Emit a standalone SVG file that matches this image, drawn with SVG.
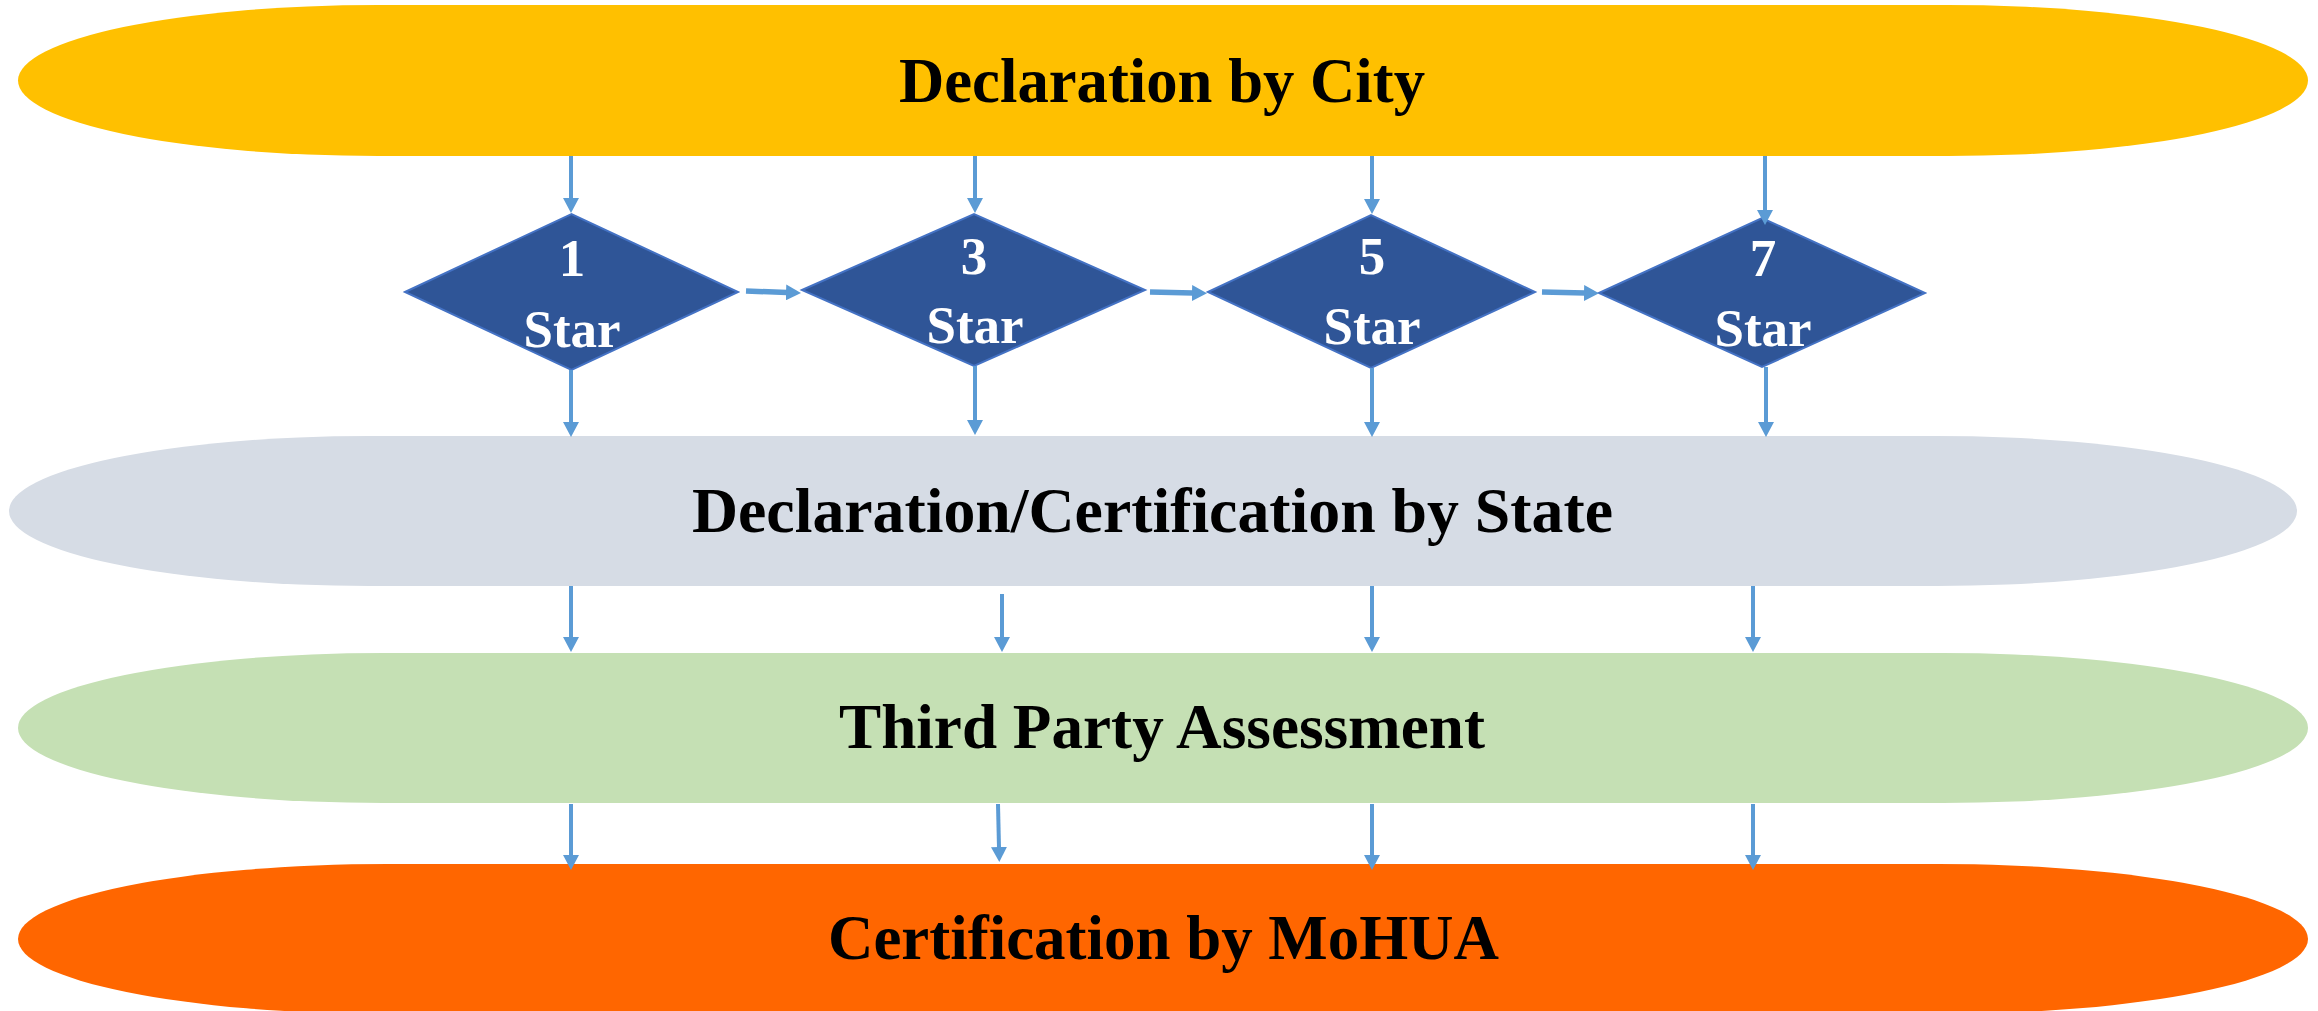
<svg xmlns="http://www.w3.org/2000/svg" width="2318" height="1011" viewBox="0 0 2318 1011">
<defs>
<style>
.lbl{font-family:"Liberation Serif","Times New Roman",serif;font-weight:bold;font-size:63px;fill:#000}
.dtx{font-family:"Liberation Serif","Times New Roman",serif;font-weight:bold;font-size:53px;fill:#fff;text-anchor:middle}
.dia{fill:#2F5597;stroke:#4472C4;stroke-width:2}
.v{stroke:#5B9BD5;stroke-width:4;fill:none;marker-end:url(#ah)}
.h{stroke:#5B9BD5;stroke-width:5.5;fill:none;marker-end:url(#ah)}
</style>
<marker id="ah" markerUnits="userSpaceOnUse" markerWidth="16" markerHeight="16" refX="1" refY="8" orient="auto" viewBox="0 0 16 16">
<path d="M0,0 L15,8 L0,16 z" fill="#5B9BD5"/>
</marker>
</defs>
<rect width="2318" height="1011" fill="#fff"/>
<g id="city">
<rect x="18" y="5" width="2290" height="151" rx="360" ry="75.5" fill="#FFC000"/>
<text class="lbl" x="899" y="102" textLength="526" lengthAdjust="spacingAndGlyphs">Declaration by City</text>
</g>
<g id="state">
<rect x="9" y="436" width="2288" height="150" rx="360" ry="75" fill="#D6DCE5"/>
<text class="lbl" x="692" y="532" textLength="921" lengthAdjust="spacingAndGlyphs">Declaration/Certification by State</text>
</g>
<g id="third">
<rect x="18" y="653" width="2290" height="150" rx="365" ry="75" fill="#C5E0B4"/>
<text class="lbl" x="839" y="748" textLength="646" lengthAdjust="spacingAndGlyphs">Third Party Assessment</text>
</g>
<g id="mohua">
<rect x="18" y="864" width="2290" height="150" rx="370" ry="75" fill="#FF6600"/>
<text class="lbl" x="828" y="959" textLength="671" lengthAdjust="spacingAndGlyphs">Certification by MoHUA</text>
</g>
<g id="star1">
<polygon class="dia" points="405,292 571.5,214 738,292 571.5,370"/>
<text class="dtx" x="572" y="276">1</text>
<text class="dtx" x="572" y="347">Star</text>
</g>
<g id="star3">
<polygon class="dia" points="802,290 974,214 1145,290 974,366"/>
<text class="dtx" x="974" y="274">3</text>
<text class="dtx" x="975" y="343">Star</text>
</g>
<g id="star5">
<polygon class="dia" points="1208,292 1371,215 1535,292 1371,368"/>
<text class="dtx" x="1372" y="274">5</text>
<text class="dtx" x="1372" y="344">Star</text>
</g>
<g id="star7">
<polygon class="dia" points="1599,293 1762,218 1925,293 1762,367"/>
<text class="dtx" x="1763" y="276">7</text>
<text class="dtx" x="1763" y="346">Star</text>
</g>
<g id="connectors">
<line class="v" x1="571" y1="156" x2="571" y2="199"/>
<line class="v" x1="975" y1="156" x2="975" y2="199"/>
<line class="v" x1="1372" y1="156" x2="1372" y2="200"/>
<line class="v" x1="1765" y1="156" x2="1765" y2="211"/>
<line class="v" x1="571" y1="370" x2="571" y2="423"/>
<line class="v" x1="975" y1="366" x2="975" y2="421"/>
<line class="v" x1="1372" y1="368" x2="1372" y2="423"/>
<line class="v" x1="1766" y1="367" x2="1766" y2="423"/>
<line class="v" x1="571" y1="586" x2="571" y2="638"/>
<line class="v" x1="1002" y1="594" x2="1002" y2="638"/>
<line class="v" x1="1372" y1="586" x2="1372" y2="638"/>
<line class="v" x1="1753" y1="586" x2="1753" y2="638"/>
<line class="v" x1="571" y1="804" x2="571" y2="856"/>
<line class="v" x1="998" y1="804" x2="999" y2="848"/>
<line class="v" x1="1372" y1="804" x2="1372" y2="856"/>
<line class="v" x1="1753" y1="804" x2="1753" y2="856"/>
<line class="h" x1="746" y1="291" x2="787" y2="292.5"/>
<line class="h" x1="1150" y1="292" x2="1193" y2="293"/>
<line class="h" x1="1542" y1="292" x2="1585" y2="293"/>
</g>
</svg>
